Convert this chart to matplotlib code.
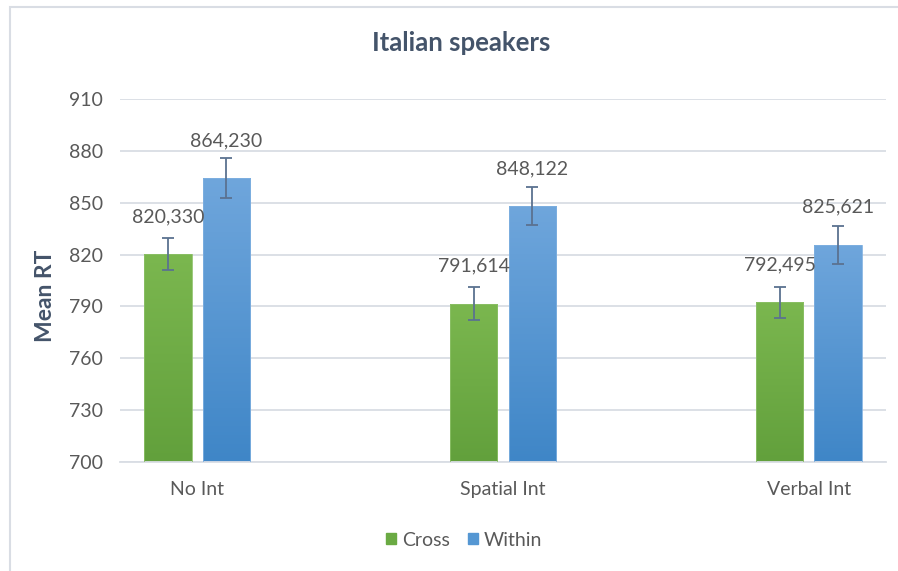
import matplotlib
matplotlib.use('Agg')
import matplotlib.pyplot as plt
import numpy as np
from matplotlib.colors import LinearSegmentedColormap
from matplotlib.patches import Rectangle

categories = ['No Int', 'Spatial Int', 'Verbal Int']
cross = [820.330, 791.614, 792.495]
within = [864.230, 848.122, 825.621]
cross_err = [9.5, 9.5, 9.0]
within_err = [11.5, 11.0, 11.0]
yticks = [700, 730, 760, 790, 820, 850, 880, 910]

plt.rcParams['font.family'] = ['Lato', 'DejaVu Sans']

W, H = 898, 571
fig = plt.figure(figsize=(W / 100, H / 100), dpi=100)
fig.patches.append(Rectangle((10 / W, -0.1), 1.2, (571 - 7) / H + 0.1, transform=fig.transFigure,
                             fill=False, edgecolor='#d9dde4', linewidth=1.5))

ax = fig.add_axes([120 / W, (H - 462) / H, 766 / W, 363 / H])

x = np.arange(len(categories))
bw = 0.154
off = 0.095

green = LinearSegmentedColormap.from_list('g', ['#62a03c', '#7bb74f'])
blue = LinearSegmentedColormap.from_list('b', ['#3f86c7', '#6fa6dc'])
grad = np.linspace(0, 1, 256).reshape(-1, 1)


def gradient_bars(xs, vals, cmap, edge):
    bars = ax.bar(xs, np.array(vals) - 700, bw, bottom=700, color='none',
                  edgecolor=edge, linewidth=0.6, zorder=3)
    for b in bars:
        x0, y0 = b.get_x(), b.get_y()
        im = ax.imshow(grad, cmap=cmap, origin='lower', aspect='auto',
                       extent=[x0, x0 + b.get_width(), y0, y0 + b.get_height()],
                       zorder=2, interpolation='bilinear')
        im.set_clip_path(b)
    return bars


gradient_bars(x - off, cross, green, '#8cc068')
gradient_bars(x + off, within, blue, '#7fb0e0')

ecol = '#5b7290'
ax.errorbar(x - off, cross, yerr=cross_err, fmt='none', ecolor=ecol,
            elinewidth=1.3, capsize=4.5, capthick=1.3, zorder=4)
ax.errorbar(x + off, within, yerr=within_err, fmt='none', ecolor=ecol,
            elinewidth=1.3, capsize=4.5, capthick=1.3, zorder=4)

for xs, vals in [(x - off, cross), (x + off, within)]:
    for xi, v in zip(xs, vals):
        ax.annotate(f'{v:.3f}'.replace('.', ','), (xi, v), xytext=(0, 27),
                    textcoords='offset points', ha='center', va='center',
                    fontsize=14, color='#595959')

ax.set_xlim(-0.252, 2.252)
ax.set_ylim(700, 910)
ax.set_yticks(yticks)
ax.set_xticks(x)
ax.set_xticklabels(categories)
ax.tick_params(axis='both', length=0, labelsize=14, labelcolor='#595959')
ax.tick_params(axis='y', pad=12)
ax.tick_params(axis='x', pad=14)
ax.grid(axis='y', color='#d9dde4', linewidth=1.3, zorder=0)
ax.set_axisbelow(True)
for s in ['top', 'right', 'left']:
    ax.spines[s].set_visible(False)
ax.spines['bottom'].set_color('#d9dde4')
ax.spines['bottom'].set_linewidth(1.3)

fig.text(46 / W, 1 - 296 / H, 'Mean RT', rotation=90, ha='center', va='center',
         fontsize=16.5, fontweight='bold', color='#44546a')
fig.text(461 / W, 1 - 43 / H, 'Italian speakers', ha='center', va='center',
         fontsize=18.5, fontweight='bold', color='#44546a')

handles = [Rectangle((0, 0), 1, 1, color='#6aaa43'), Rectangle((0, 0), 1, 1, color='#5597d3')]
fig.legend(handles, ['Cross', 'Within'], loc='center', bbox_to_anchor=(464 / W, 1 - 540 / H),
           ncol=2, frameon=False, fontsize=14, handlelength=0.55, handleheight=0.55,
           handletextpad=0.3, columnspacing=0.9, labelcolor='#595959')

fig.savefig('out.png', dpi=100)
